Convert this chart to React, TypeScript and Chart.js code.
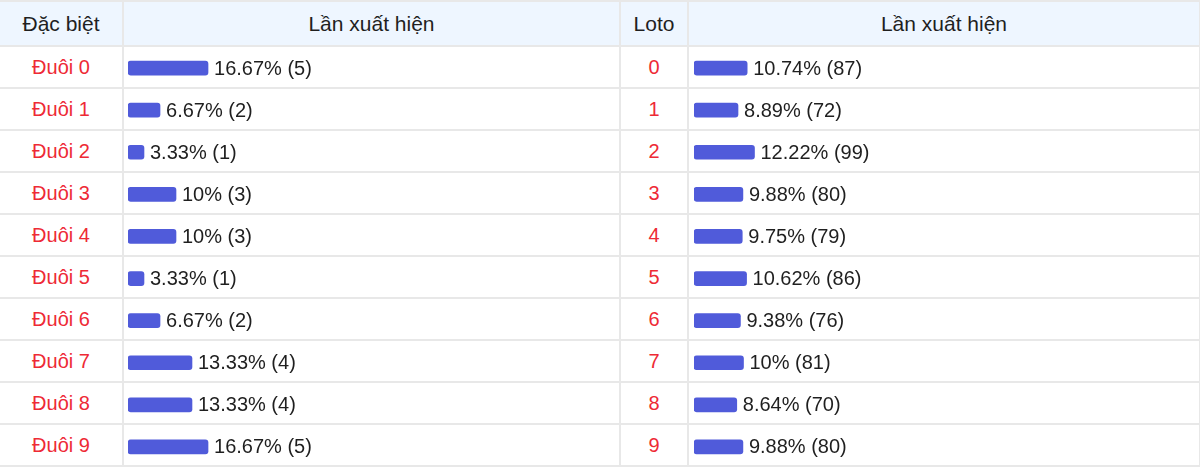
import React, { useEffect, useRef } from "react";
import { Chart, registerables } from "chart.js";

Chart.register(...registerables);

const headers = ["Đặc biệt", "Lần xuất hiện", "Loto", "Lần xuất hiện"];

const dacBietLabels = ["Đuôi 0", "Đuôi 1", "Đuôi 2", "Đuôi 3", "Đuôi 4", "Đuôi 5", "Đuôi 6", "Đuôi 7", "Đuôi 8", "Đuôi 9"];
const dacBietPercent = [16.67, 6.67, 3.33, 10, 10, 3.33, 6.67, 13.33, 13.33, 16.67];
const dacBietCount = [5, 2, 1, 3, 3, 1, 2, 4, 4, 5];

const lotoLabels = ["0", "1", "2", "3", "4", "5", "6", "7", "8", "9"];
const lotoPercent = [10.74, 8.89, 12.22, 9.88, 9.75, 10.62, 9.38, 10, 8.64, 9.88];
const lotoCount = [87, 72, 99, 80, 79, 86, 76, 81, 70, 80];

const FONT = '"Liberation Sans", Arial, Helvetica, sans-serif';
const BAR_COLOR = "#505bda";
const TEXT_COLOR = "#1f1f1f";
const RED = "#ee2a35";
const BORDER = "2px solid #e8e8e8";

function BarColumn(props: { labels: string[]; percent: number[]; count: number[]; left: number; width: number; padLeft: number; padRight: number }) {
  const ref = useRef<HTMLCanvasElement | null>(null);
  useEffect(() => {
    if (!ref.current) return;
    const valueLabels = props.percent.map((p, i) => `${p}% (${props.count[i]})`);
    const labelPlugin = {
      id: "valueLabels",
      afterDatasetsDraw(chart: any) {
        const ctx = chart.ctx;
        const meta = chart.getDatasetMeta(0);
        ctx.save();
        ctx.font = `20px ${FONT}`;
        ctx.fillStyle = TEXT_COLOR;
        ctx.textBaseline = "middle";
        ctx.textAlign = "left";
        meta.data.forEach((bar: any, i: number) => {
          ctx.fillText(valueLabels[i], bar.x + 6, bar.y + 1);
        });
        ctx.restore();
      },
    };
    const chart = new Chart(ref.current, {
      type: "bar",
      data: {
        labels: props.labels,
        datasets: [
          {
            data: props.percent,
            backgroundColor: BAR_COLOR,
            borderRadius: 3,
            borderSkipped: false,
            barThickness: 14,
          },
        ],
      },
      options: {
        indexAxis: "y",
        animation: false,
        responsive: false,
        maintainAspectRatio: false,
        layout: { padding: { left: props.padLeft, right: props.padRight, top: 0, bottom: 0 } },
        scales: {
          x: { display: false, min: 0, max: 100 },
          y: { display: false },
        },
        plugins: { legend: { display: false }, tooltip: { enabled: false } },
      },
      plugins: [labelPlugin],
    });
    return () => chart.destroy();
  }, []);
  return (
    <canvas
      ref={ref}
      width={props.width}
      height={421}
      style={{ position: "absolute", left: props.left, top: 47, width: props.width, height: 421 }}
    />
  );
}

export default function App() {
  useEffect(() => {
    document.body.style.margin = "0";
  }, []);
  const colWidths = [123, 497, 68, 512];
  const th: React.CSSProperties = {
    background: "#eef6ff",
    borderTop: BORDER,
    borderBottom: BORDER,
    borderRight: BORDER,
    fontWeight: "normal",
    fontSize: 21,
    color: TEXT_COLOR,
    height: 43,
    padding: 0,
    textAlign: "center",
    verticalAlign: "middle",
  };
  const td: React.CSSProperties = {
    borderBottom: BORDER,
    borderRight: BORDER,
    height: 40,
    padding: 0,
    textAlign: "center",
    verticalAlign: "middle",
  };
  return (
    <div style={{ position: "relative", width: 1200, height: 467, fontFamily: FONT, fontSize: 20, overflow: "hidden", background: "#fff" }}>
      <table style={{ borderCollapse: "collapse", tableLayout: "fixed", width: 1200, position: "absolute", left: 0, top: 0 }}>
        <colgroup>
          {colWidths.map((w, i) => (
            <col key={i} style={{ width: w }} />
          ))}
        </colgroup>
        <thead>
          <tr>
            {headers.map((h, i) => (
              <th key={i} style={th}>{h}</th>
            ))}
          </tr>
        </thead>
        <tbody>
          {dacBietLabels.map((l, i) => (
            <tr key={i}>
              <td style={{ ...td, color: RED }}>{l}</td>
              <td style={td}></td>
              <td style={{ ...td, color: RED }}>{lotoLabels[i]}</td>
              <td style={td}></td>
            </tr>
          ))}
        </tbody>
      </table>
      <BarColumn labels={dacBietLabels} percent={dacBietPercent} count={dacBietCount} left={124} width={496} padLeft={4} padRight={12} />
      <BarColumn labels={lotoLabels} percent={lotoPercent} count={lotoCount} left={689} width={509} padLeft={5} padRight={9} />
    </div>
  );
}
